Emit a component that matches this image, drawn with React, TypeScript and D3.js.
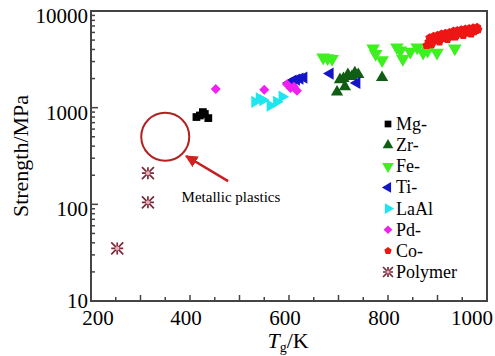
import React from 'react'
import * as d3 from 'd3'

// values: [Tg (K), strength (MPa)]
const mg = [[413, 800], [420, 830], [426, 900], [430, 860], [437, 780]]
const zr = [[697, 1450], [703, 1950], [710, 2000], [713, 1650], [719, 2200], [727, 2100], [733, 2300], [740, 2200], [788, 2050]]
const fe = [[669, 3300], [678, 3250], [687, 3200], [770, 4100], [775, 3600], [788, 3100], [818, 4200], [825, 3900], [830, 3200], [845, 3800], [859, 4200], [871, 3700], [880, 3900], [899, 3700], [935, 4100]]
const ti = [[600, 1800], [608, 1900], [615, 1950], [622, 2000], [630, 2050], [683, 2250], [737, 1800]]
const laal = [[531, 1150], [540, 1250], [547, 1200], [562, 1050], [575, 1150], [586, 1300]]
const pd = [[452, 1560], [550, 1530], [596, 1750], [603, 1600], [610, 1650], [616, 1500]]
const co = [[878, 4400], [882, 4800], [886, 5000], [890, 4700], [894, 5100], [898, 5200], [902, 5000], [906, 5300], [910, 5400], [914, 5200], [918, 5500], [922, 5600], [926, 5400], [930, 5700], [934, 5800], [938, 5600], [942, 5900], [946, 6000], [950, 5800], [954, 6000], [958, 6100], [962, 5900], [966, 6200], [970, 6300], [974, 6100], [978, 6300], [982, 6400],
  [884, 5300], [892, 5500], [900, 5600], [908, 5800], [916, 5900], [924, 6000], [932, 6200], [940, 6300], [948, 6400], [956, 6500], [964, 6600], [972, 6700], [980, 6800], [888, 4500], [904, 4800], [920, 5100], [936, 5400], [952, 5600], [968, 5800]]
const polymer = [[315, 210], [315, 105], [253, 35]]

const xTickLabels = [200, 400, 600, 800, 1000]
const yTickLabels = [10, 100, 1000, 10000]

const pentagon = {
  draw(ctx, size) {
    const r = Math.sqrt(size) / 1.5
    for (let i = 0; i < 5; i++) {
      const a = -Math.PI / 2 + i * 2 * Math.PI / 5
      if (i === 0) ctx.moveTo(r * Math.cos(a), r * Math.sin(a))
      else ctx.lineTo(r * Math.cos(a), r * Math.sin(a))
    }
    ctx.closePath()
  }
}

const series = [
  { name: 'Mg-', data: mg, color: '#000000', type: d3.symbolSquare, rot: 0, size: 60 },
  { name: 'Zr-', data: zr, color: '#0f5e14', type: d3.symbolTriangle, rot: 0, size: 65 },
  { name: 'Fe-', data: fe, color: '#3ff020', type: d3.symbolTriangle, rot: 180, size: 80 },
  { name: 'Ti-', data: ti, color: '#1414c8', type: d3.symbolTriangle, rot: -90, size: 65 },
  { name: 'LaAl', data: laal, color: '#1ee6ee', type: d3.symbolTriangle, rot: 90, size: 65 },
  { name: 'Pd-', data: pd, color: '#f020f0', type: d3.symbolSquare, rot: 45, size: 50 },
  { name: 'Co-', data: co, color: '#ee1515', type: pentagon, rot: 0, size: 45 },
  { name: 'Polymer', data: polymer, color: '#7a2a3a', type: null, rot: 0, size: 0 },
]

const Star = ({ x, y, r }) => (
  <g transform={`translate(${x},${y})`} stroke="#7a2a3a" strokeWidth={1.7} fill="none">
    <path d={`M${-r},${-r}L${r},${r}M${-r},${r}L${r},${-r}M0,${-r}L0,${r}M${-r},0L${r},0`} />
    <circle r={r * 0.35} fill="#e8b0b8" stroke="none" />
  </g>
)

export default function App() {
  const x = d3.scaleLinear().domain([200, 1000]).range([91, 487])
  const y = d3.scaleLog().domain([10, 10000]).range([301, 11])
  const xTicks = d3.range(200, 1001, 50)
  const yMinor = []
  ;[10, 100, 1000].forEach(d => { for (let k = 2; k <= 9; k++) yMinor.push(d * k) })
  const serif = 'Liberation Serif, Times New Roman, serif'

  const legendX = 388
  const legendY = d3.scaleLinear().domain([0, 7]).range([124, 272])

  return (
    <svg width={495} height={356} style={{ position: 'absolute', left: 0, top: 0, background: '#fff' }} fontFamily={serif}>
      {/* frame */}
      <rect x={91} y={11} width={396} height={290} fill="none" stroke="#444" strokeWidth={2} />

      {/* x ticks */}
      {xTicks.map(t => (
        <line key={t} x1={x(t)} x2={x(t)} y1={301} y2={301 - (t % 100 === 0 ? 6 : 4)} stroke="#444" strokeWidth={1.5} />
      ))}
      {xTickLabels.map((t, i) => (
        <text key={t} x={x(t) + (i === 0 ? 7 : i === xTickLabels.length - 1 ? -15 : -4)} y={325} fontSize={21} textAnchor="middle">{t}</text>
      ))}

      {/* y ticks */}
      {yTickLabels.map(t => (
        <line key={t} x1={91} x2={98} y1={y(t)} y2={y(t)} stroke="#444" strokeWidth={1.5} />
      ))}
      {yMinor.map(t => (
        <line key={t} x1={91} x2={95} y1={y(t)} y2={y(t)} stroke="#444" strokeWidth={1.5} />
      ))}
      {yTickLabels.map(t => (
        <text key={t} x={88} y={y(t) + (t === 10 ? 7 : 12)} fontSize={21} textAnchor="end">{t}</text>
      ))}

      {/* axis titles */}
      <text transform="translate(28,156) rotate(-90)" fontSize={22} textAnchor="middle">Strength/MPa</text>
      <text x={288} y={348} fontSize={22} textAnchor="middle">
        <tspan fontStyle="italic">T</tspan>
        <tspan fontSize={14} dy={4}>g</tspan>
        <tspan dy={-4}>/K</tspan>
      </text>

      {/* data */}
      {series.map(s => s.data.map((d, i) => (
        s.type ? (
          <path key={s.name + i} d={d3.symbol(s.type, s.size)()}
            transform={`translate(${x(d[0])},${y(d[1])}) rotate(${s.rot})`} fill={s.color} />
        ) : (
          <Star key={s.name + i} x={x(d[0])} y={y(d[1])} r={6} />
        )
      )))}

      {/* annotation */}
      <circle cx={x(350)} cy={y(500)} r={24} fill="none" stroke="#b22222" strokeWidth={2} />
      <defs>
        <marker id="ah" viewBox="0 0 10 10" refX={9} refY={5} markerWidth={5} markerHeight={5} orient="auto">
          <path d="M0,0L10,5L0,10z" fill="#d42020" />
        </marker>
      </defs>
      <line x1={x(477)} y1={y(174)} x2={x(392)} y2={y(316)} stroke="#c42020" strokeWidth={2.5} markerEnd="url(#ah)" />
      <text x={x(383)} y={y(106)} fontSize={15}>Metallic plastics</text>

      {/* legend */}
      {series.map((s, i) => (
        <g key={s.name} transform={`translate(${legendX},${legendY(i)})`}>
          {s.type ? (
            <path d={d3.symbol(s.type, s.size * 0.75)()} transform={`rotate(${s.rot})`} fill={s.color} />
          ) : (
            <Star x={0} y={0} r={5} />
          )}
          <text x={8} y={6} fontSize={18}>{s.name}</text>
        </g>
      ))}
    </svg>
  )
}
